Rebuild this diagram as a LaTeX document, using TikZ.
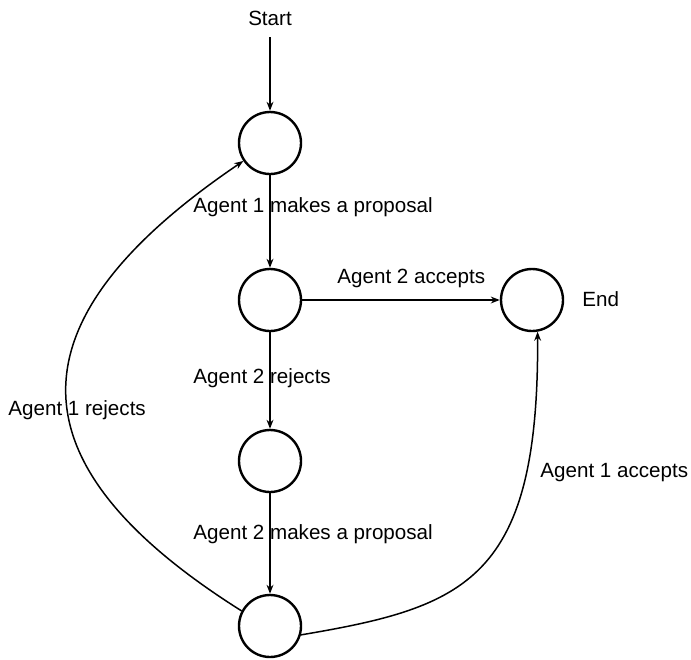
\documentclass[tikz,border=0pt]{standalone}
\usepackage{fontspec}
\setmainfont{Liberation Sans}
\usetikzlibrary{arrows.meta}
\begin{document}
\begin{tikzpicture}[x=0.5pt, y=-0.5pt,
  state/.style={circle, draw, line width=1.2pt, minimum size=31pt, inner sep=0pt},
  lbl/.style={font=\fontsize{10.3}{12}\selectfont, inner sep=0pt},
  edge/.style={line width=0.75pt, -{Stealth[length=4.5pt, width=3.4pt]}}]
  \useasboundingbox (0,0) rectangle (691,659);

  % states
  \node[state] (s1) at (270,143) {};
  \node[state] (s2) at (270,300) {};
  \node[state] (s3) at (270,461) {};
  \node[state] (s4) at (270,626) {};
  \node[state] (fin) at (532,300) {};

  % plain labels
  \node[lbl] (start) at (270,18) {Start};
  \node[lbl, anchor=west] (endlbl) at (582,299) {End};

  % transition labels
  \node[lbl, anchor=west] (l1) at (193,207) {Agent 1 makes a proposal};
  \node[lbl, anchor=west] (l2) at (337,278) {Agent 2 accepts};
  \node[lbl, anchor=west] (l3) at (193,378) {Agent 2 rejects};
  \node[lbl, anchor=west] (l4) at (8,410) {Agent 1 rejects};
  \node[lbl, anchor=west] (l5) at (540,473) {Agent 1 accepts};
  \node[lbl, anchor=west] (l6) at (193,534) {Agent 2 makes a proposal};

  % transitions
  \coordinate (starttail) at (270,37);
  \draw[edge] (starttail) -- (s1.north);
  \draw[edge] (s1.south) -- (s2.north);
  \draw[edge] (s2.south) -- (s3.north);
  \draw[edge] (s3.south) -- (s4.north);
  \draw[edge] (s2.east) -- (fin.west);
  \draw[edge] (s4.152) .. controls (5,462) and (10,319) .. (s1.214);
  \draw[edge] (s4.-16) .. controls (466,607) and (539,580) .. (fin.-80);
\end{tikzpicture}
\end{document}
